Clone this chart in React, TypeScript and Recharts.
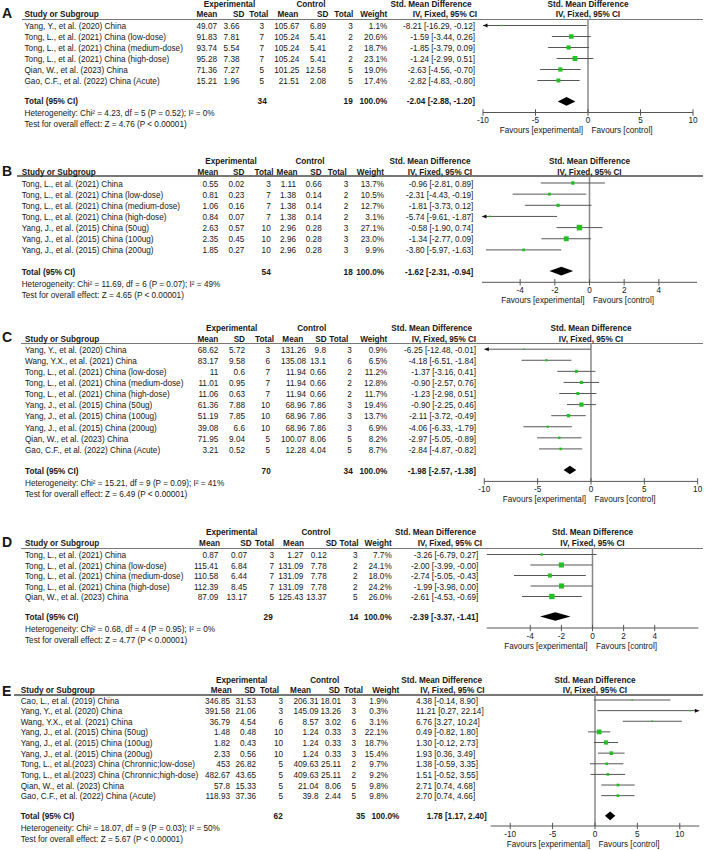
// Five stacked forest plots (panels A–E): RevMan-style table on the left,
// Std. Mean Difference plot on the right. Table text is HTML, marks are Recharts.
import React from "react";
import { ScatterChart, Scatter, ErrorBar, XAxis, YAxis, ReferenceLine, ReferenceArea } from "recharts";

const FONT = '"Liberation Sans", Arial, sans-serif';
const FS = 8.2;
const INK = "#161616";
const GREEN = "#22c022";
const CI_STROKE = "#555";

// ---- Panel A ----
const studiesA = ["Yang, Y., et al. (2020) China", "Tong, L., et al. (2021) China (low-dose)", "Tong, L., et al. (2021) China (medium-dose)", "Tong, L., et al. (2021) China (high-dose)", "Qian, W., et al. (2023) China", "Gao, C.F., et al. (2022) China (Acute)"];
const expMeanA = [49.07, 91.83, 93.74, 95.28, 71.36, 15.21];
const expSdA = [3.66, 7.81, 5.54, 7.38, 7.27, 1.96];
const expNA = [3, 7, 7, 7, 5, 5];
const ctlMeanA = [105.67, 105.24, 105.24, 105.24, 101.25, 21.51];
const ctlSdA = [6.89, 5.41, 5.41, 5.41, 12.58, 2.08];
const ctlNA = [3, 2, 2, 2, 5, 5];
const weightA = [1.1, 20.6, 18.7, 23.1, 19.0, 17.4];
const smdA = [-8.21, -1.59, -1.85, -1.24, -2.63, -2.82];
const loA = [-16.29, -3.44, -3.79, -2.99, -4.56, -4.83];
const hiA = [-0.12, 0.26, 0.09, 0.51, -0.7, -0.8];
const pooledA = [-2.04, -2.88, -1.2];
const totalsA = [34, 19];
const statsA = [4.23, 5, 0.52, 0, 4.76]; // chi2, df, P, I2, Z

// ---- Panel B ----
const studiesB = ["Tong, L., et al. (2021) China", "Tong, L., et al. (2021) China (low-dose)", "Tong, L., et al. (2021) China (medium-dose)", "Tong, L., et al. (2021) China (high-dose)", "Yang, J., et al. (2015) China (50ug)", "Yang, J., et al. (2015) China (100ug)", "Yang, J., et al. (2015) China (200ug)"];
const expMeanB = [0.55, 0.81, 1.06, 0.84, 2.63, 2.35, 1.85];
const expSdB = [0.02, 0.23, 0.16, 0.07, 0.57, 0.45, 0.27];
const expNB = [3, 7, 7, 7, 10, 10, 10];
const ctlMeanB = [1.11, 1.38, 1.38, 1.38, 2.96, 2.96, 2.96];
const ctlSdB = [0.66, 0.14, 0.14, 0.14, 0.28, 0.28, 0.28];
const ctlNB = [3, 2, 2, 2, 3, 3, 3];
const weightB = [13.7, 10.5, 12.7, 3.1, 27.1, 23.0, 9.9];
const smdB = [-0.96, -2.31, -1.81, -5.74, -0.58, -1.34, -3.8];
const loB = [-2.81, -4.43, -3.73, -9.61, -1.9, -2.77, -5.97];
const hiB = [0.89, -0.19, 0.12, -1.87, 0.74, 0.09, -1.63];
const pooledB = [-1.62, -2.31, -0.94];
const totalsB = [54, 18];
const statsB = [11.69, 6, 0.07, 49, 4.65];

// ---- Panel C ----
const studiesC = ["Yang, Y., et al. (2020) China", "Wang, Y.X., et al. (2021) China", "Tong, L., et al. (2021) China (low-dose)", "Tong, L., et al. (2021) China (medium-dose)", "Tong, L., et al. (2021) China (high-dose)", "Yang, J., et al. (2015) China (50ug)", "Yang, J., et al. (2015) China (100ug)", "Yang, J., et al. (2015) China (200ug)", "Qian, W., et al. (2023) China", "Gao, C.F., et al. (2022) China (Acute)"];
const expMeanC = [68.62, 83.17, 11, 11.01, 11.06, 61.36, 51.19, 39.08, 71.95, 3.21];
const expSdC = [5.72, 9.58, 0.6, 0.95, 0.63, 7.88, 7.85, 6.6, 9.04, 0.52];
const expNC = [3, 6, 7, 7, 7, 10, 10, 10, 5, 5];
const ctlMeanC = [131.26, 135.08, 11.94, 11.94, 11.94, 68.96, 68.96, 68.96, 100.07, 12.28];
const ctlSdC = [9.8, 13.1, 0.66, 0.66, 0.66, 7.86, 7.86, 7.86, 8.06, 4.04];
const ctlNC = [3, 6, 2, 2, 2, 3, 3, 3, 5, 5];
const weightC = [0.9, 6.5, 11.2, 12.8, 11.7, 19.4, 13.7, 6.9, 8.2, 8.7];
const smdC = [-6.25, -4.18, -1.37, -0.9, -1.23, -0.9, -2.11, -4.06, -2.97, -2.84];
const loC = [-12.48, -6.51, -3.16, -2.57, -2.98, -2.25, -3.72, -6.33, -5.05, -4.87];
const hiC = [-0.01, -1.84, 0.41, 0.76, 0.51, 0.46, -0.49, -1.79, -0.89, -0.82];
const pooledC = [-1.98, -2.57, -1.38];
const totalsC = [70, 34];
const statsC = [15.21, 9, 0.09, 41, 6.49];

// ---- Panel D ----
const studiesD = ["Tong, L., et al. (2021) China", "Tong, L., et al. (2021) China (low-dose)", "Tong, L., et al. (2021) China (medium-dose)", "Tong, L., et al. (2021) China (high-dose)", "Qian, W., et al. (2023) China"];
const expMeanD = [0.87, 115.41, 110.58, 112.39, 87.09];
const expSdD = [0.07, 6.84, 6.44, 8.45, 13.17];
const expND = [3, 7, 7, 7, 5];
const ctlMeanD = [1.27, 131.09, 131.09, 131.09, 125.43];
const ctlSdD = [0.12, 7.78, 7.78, 7.78, 13.37];
const ctlND = [3, 2, 2, 2, 5];
const weightD = [7.7, 24.1, 18.0, 24.2, 26.0];
const smdD = [-3.26, -2.0, -2.74, -1.99, -2.61];
const loD = [-6.79, -3.99, -5.05, -3.98, -4.53];
const hiD = [0.27, -0.004, -0.43, 0.0, -0.69];
const pooledD = [-2.39, -3.37, -1.41];
const totalsD = [29, 14];
const statsD = [0.68, 4, 0.95, 0, 4.77];

// ---- Panel E ----
const studiesE = ["Cao, L., et al. (2019) China", "Yang, Y., et al. (2020) China", "Wang, Y.X., et al. (2021) China", "Yang, J., et al. (2015) China (50ug)", "Yang, J., et al. (2015) China (100ug)", "Yang, J., et al. (2015) China (200ug)", "Tong, L., et al.(2023) China (Chronnic;low-dose)", "Tong, L., et al.(2023) China (Chronnic;high-dose)", "Qian, W., et al. (2023) China", "Gao, C.F., et al. (2022) China (Acute)"];
const expMeanE = [346.85, 391.58, 36.79, 1.48, 1.82, 2.33, 453, 482.67, 57.8, 118.93];
const expSdE = [31.53, 21.06, 4.54, 0.48, 0.43, 0.56, 26.82, 43.65, 15.33, 37.36];
const expNE = [3, 3, 6, 10, 10, 10, 5, 5, 5, 5];
const ctlMeanE = [206.31, 145.09, 8.57, 1.24, 1.24, 1.24, 409.63, 409.63, 21.04, 39.8];
const ctlSdE = [18.01, 13.26, 3.02, 0.33, 0.33, 0.33, 25.11, 25.11, 8.06, 2.44];
const ctlNE = [3, 3, 6, 3, 3, 3, 2, 2, 5, 5];
const weightE = [1.9, 0.3, 3.1, 22.1, 18.7, 15.4, 9.7, 9.2, 9.8, 9.8];
const smdE = [4.38, 11.21, 6.76, 0.49, 1.3, 1.93, 1.38, 1.51, 2.71, 2.7];
const loE = [-0.14, 0.27, 3.27, -0.82, -0.12, 0.36, -0.59, -0.52, 0.74, 0.74];
const hiE = [8.9, 22.14, 10.24, 1.8, 2.73, 3.49, 3.35, 3.55, 4.68, 4.66];
const pooledE = [1.78, 1.17, 2.4];
const totalsE = [62, 35];
const statsE = [18.07, 9, 0.03, 50, 5.67];

const ticks10 = [-10, -5, 0, 5, 10];
const ticks4 = [-4, -2, 0, 2, 4];

type Layout = {
  letterY: number; lineY: number; lineX0: number; hdr1Y: number; hdr2Y: number;
  y0: number; rowH: number; axisY: number; textX: number;
  dom: number; plotL: number; plotR: number; ticks: number[];
  col: number[]; hcol: number[]; expC: number; ctlC: number; smdC: number; ivC: number;
  tot: number[]; ciLeft?: boolean;
};

const layA: Layout = { letterY: 13, lineY: 19.5, lineX0: 21.7, hdr1Y: 5, hdr2Y: 15, y0: 25, rowH: 11, axisY: 112, textX: 24.5,
  dom: 10, plotL: 483, plotR: 693, ticks: ticks10,
  col: [217, 239.5, 264, 299.3, 326, 352.7, 387.3, 475], hcol: [217.3, 244.3, 268.3, 298.3, 328.3, 353.3, 387.3],
  expC: 229.5, ctlC: 311, smdC: 431, ivC: 445, tot: [266.7, 352.7, 387.3, 475] };
const layB: Layout = { letterY: 170.5, lineY: 176, lineX0: 17, hdr1Y: 162, hdr2Y: 172.5, y0: 183, rowH: 11.15, axisY: 282.3, textX: 21.7,
  dom: 6.2, plotL: 482, plotR: 697, ticks: ticks4,
  col: [218.3, 244.3, 270.7, 296, 321.7, 348.3, 384, 473.3], hcol: [218.3, 244.3, 273.5, 297.5, 321.7, 346.7, 384],
  expC: 231, ctlC: 310, smdC: 430, ivC: 440, tot: [270.7, 352.7, 384, 473.3] };
const layC: Layout = { letterY: 336.7, lineY: 343.3, lineX0: 21, hdr1Y: 329, hdr2Y: 339.5, y0: 349.5, rowH: 11.08, axisY: 481.7, textX: 25,
  dom: 10, plotL: 484.3, plotR: 697.7, ticks: ticks10,
  col: [218.3, 245, 270, 306, 326, 351.7, 387.3, 476], hcol: [218.3, 245, 274, 303.3, 326.7, 348.3, 387.3],
  expC: 231.7, ctlC: 311.7, smdC: 431.7, ivC: 444, tot: [270.7, 352.7, 387.3, 476] };
const layD: Layout = { letterY: 541.7, lineY: 548.3, lineX0: 21, hdr1Y: 533.3, hdr2Y: 544, y0: 554.8, rowH: 10.5, axisY: 628.3, textX: 25,
  dom: 6.8, plotL: 486.7, plotR: 698.3, ticks: ticks4,
  col: [218.3, 247, 274, 303.3, 326.7, 357.5, 391.7, 478.3], hcol: [220, 251.7, 274, 304, 337, 358.5, 391.7],
  expC: 231.7, ctlC: 316, smdC: 435.5, ivC: 450, tot: [272.7, 358.3, 391.7, 478.3] };
const layE: Layout = { letterY: 690.5, lineY: 695, lineX0: 14, hdr1Y: 681, hdr2Y: 691, y0: 700, rowH: 10.63, axisY: 826, textX: 20.7,
  dom: 12.3, plotL: 490.7, plotR: 699.3, ticks: ticks10,
  col: [230, 256, 283, 318.5, 341, 356, 388, 416], hcol: [231.7, 255.5, 279, 311, 340, 363, 399.3],
  expC: 241.7, ctlC: 324.7, smdC: 441.7, ivC: 452.5, tot: [282.7, 365, 399.3, 426.7], ciLeft: true };

type Panel = {
  letter: string; studies: string[]; eM: number[]; eSd: number[]; eN: number[]; cM: number[]; cSd: number[]; cN: number[];
  w: number[]; smd: number[]; lo: number[]; hi: number[]; pooled: number[]; totals: number[]; stats: number[]; lay: Layout;
};

const PANELS: Panel[] = [
  { letter: "A", studies: studiesA, eM: expMeanA, eSd: expSdA, eN: expNA, cM: ctlMeanA, cSd: ctlSdA, cN: ctlNA, w: weightA, smd: smdA, lo: loA, hi: hiA, pooled: pooledA, totals: totalsA, stats: statsA, lay: layA },
  { letter: "B", studies: studiesB, eM: expMeanB, eSd: expSdB, eN: expNB, cM: ctlMeanB, cSd: ctlSdB, cN: ctlNB, w: weightB, smd: smdB, lo: loB, hi: hiB, pooled: pooledB, totals: totalsB, stats: statsB, lay: layB },
  { letter: "C", studies: studiesC, eM: expMeanC, eSd: expSdC, eN: expNC, cM: ctlMeanC, cSd: ctlSdC, cN: ctlNC, w: weightC, smd: smdC, lo: loC, hi: hiC, pooled: pooledC, totals: totalsC, stats: statsC, lay: layC },
  { letter: "D", studies: studiesD, eM: expMeanD, eSd: expSdD, eN: expND, cM: ctlMeanD, cSd: ctlSdD, cN: ctlND, w: weightD, smd: smdD, lo: loD, hi: hiD, pooled: pooledD, totals: totalsD, stats: statsD, lay: layD },
  { letter: "E", studies: studiesE, eM: expMeanE, eSd: expSdE, eN: expNE, cM: ctlMeanE, cSd: ctlSdE, cN: ctlNE, w: weightE, smd: smdE, lo: loE, hi: hiE, pooled: pooledE, totals: totalsE, stats: statsE, lay: layE },
];

const f2 = (v: number) => v.toFixed(2);
const ciText = (s: number, l: number, h: number) => `${f2(s)} [${f2(l)}, ${f2(h)}]`;

function Txt({ x, y, children, align = "l", bold = false, size = FS }: {
  x: number; y: number; children: React.ReactNode; align?: "l" | "r" | "c"; bold?: boolean; size?: number;
}) {
  const lh = 12;
  const style: React.CSSProperties = {
    position: "absolute", top: y - lh / 2, lineHeight: `${lh}px`, fontSize: size,
    fontWeight: bold ? 700 : 400, whiteSpace: "nowrap", color: INK, fontFamily: FONT,
  };
  if (align === "l") style.left = x;
  else if (align === "r") { style.left = x - 300; style.width = 300; style.textAlign = "right"; }
  else { style.left = x - 150; style.width = 300; style.textAlign = "center"; }
  return <div style={style}>{children}</div>;
}

const renderTick = (p: any) => (
  <g>
    <line x1={p.x} x2={p.x} y1={p.y - 3.2} y2={p.y + 3.2} stroke="#555" strokeWidth={1} />
    <text x={p.x} y={p.y + 10.9} textAnchor="middle" fontSize={FS} fontFamily={FONT} fill={INK}>{p.payload.value}</text>
  </g>
);

const renderSquare = (p: any) => {
  const s = Math.max(1.4, 1.1 + p.payload.w * 0.165);
  return <rect x={p.cx - s / 2} y={p.cy - s / 2} width={s} height={s} fill={GREEN} />;
};

const renderArrow = (p: any) => {
  const d = p.payload.dir;
  const pts = `${p.cx},${p.cy} ${p.cx - d * 4.5},${p.cy - 2} ${p.cx - d * 4.5},${p.cy + 2}`;
  return <polygon points={pts} fill="#111" />;
};

const renderDiamond = (p: any) => {
  const cy = p.y + p.height / 2;
  const x0 = p.x, x1 = p.x + p.width, xm = p.x + p.width / 2;
  return <polygon points={`${x0},${cy} ${xm},${cy - 4.3} ${x1},${cy} ${xm},${cy + 4.3}`} fill="#000" />;
};

function ForestPanel({ p }: { p: Panel }) {
  const L = p.lay;
  const n = p.studies.length;
  const td = 1.5;
  const rowY = (i: number) => L.y0 + i * L.rowH;
  const totIdx = n + 0.9;
  const totY = rowY(totIdx);
  const dom = L.dom;
  const zeroX = (L.plotL + L.plotR) / 2;

  const pts = p.smd.map((s, i) => {
    const lo = Math.max(p.lo[i], -dom);
    const hi = Math.min(p.hi[i], dom);
    return { x: s, y: i, w: p.w[i], err: [s - lo, hi - s] };
  });
  // CIs running past the axis end get an arrowhead at the edge
  const arrows: { x: number; y: number; dir: number }[] = [];
  p.lo.forEach((v, i) => { if (v < -dom) arrows.push({ x: -dom, y: i, dir: -1 }); });
  p.hi.forEach((v, i) => { if (v > dom) arrows.push({ x: dom, y: i, dir: 1 }); });

  const chartH = L.axisY - L.lineY + 14;
  const [chi, df, pv, i2, z] = p.stats;
  const c = L.col;
  const h = L.hcol;

  return (
    <>
      <Txt x={2} y={L.letterY} bold size={14}>{p.letter}</Txt>
      <div style={{ position: "absolute", left: L.lineX0, top: L.lineY - 0.75, width: 703 - L.lineX0, height: 1.5, background: "#777" }} />

      <Txt x={L.expC} y={L.hdr1Y} align="c" bold>Experimental</Txt>
      <Txt x={L.ctlC} y={L.hdr1Y} align="c" bold>Control</Txt>
      <Txt x={L.smdC} y={L.hdr1Y} align="c" bold>Std. Mean Difference</Txt>
      <Txt x={zeroX} y={L.hdr1Y} align="c" bold>Std. Mean Difference</Txt>
      <Txt x={L.textX} y={L.hdr2Y} bold>Study or Subgroup</Txt>
      <Txt x={h[0]} y={L.hdr2Y} align="r" bold>Mean</Txt>
      <Txt x={h[1]} y={L.hdr2Y} align="r" bold>SD</Txt>
      <Txt x={h[2]} y={L.hdr2Y} align="r" bold>Total</Txt>
      <Txt x={h[3]} y={L.hdr2Y} align="r" bold>Mean</Txt>
      <Txt x={h[4]} y={L.hdr2Y} align="r" bold>SD</Txt>
      <Txt x={h[5]} y={L.hdr2Y} align="r" bold>Total</Txt>
      <Txt x={h[6]} y={L.hdr2Y} align="r" bold>Weight</Txt>
      <Txt x={L.ivC} y={L.hdr2Y} align="c" bold>IV, Fixed, 95% CI</Txt>
      <Txt x={zeroX} y={L.hdr2Y} align="c" bold>IV, Fixed, 95% CI</Txt>

      {p.studies.map((s, i) => {
        const y = rowY(i) + td;
        return (
          <React.Fragment key={i}>
            <Txt x={L.textX} y={y}>{s}</Txt>
            <Txt x={c[0]} y={y} align="r">{String(p.eM[i])}</Txt>
            <Txt x={c[1]} y={y} align="r">{String(p.eSd[i])}</Txt>
            <Txt x={c[2]} y={y} align="r">{String(p.eN[i])}</Txt>
            <Txt x={c[3]} y={y} align="r">{String(p.cM[i])}</Txt>
            <Txt x={c[4]} y={y} align="r">{String(p.cSd[i])}</Txt>
            <Txt x={c[5]} y={y} align="r">{String(p.cN[i])}</Txt>
            <Txt x={c[6]} y={y} align="r">{p.w[i].toFixed(1)}%</Txt>
            <Txt x={c[7]} y={y} align={L.ciLeft ? "l" : "r"}>{ciText(p.smd[i], p.lo[i], p.hi[i])}</Txt>
          </React.Fragment>
        );
      })}

      <Txt x={L.textX} y={totY + td} bold>Total (95% CI)</Txt>
      <Txt x={L.tot[0]} y={totY + td} align="r" bold>{p.totals[0]}</Txt>
      <Txt x={L.tot[1]} y={totY + td} align="r" bold>{p.totals[1]}</Txt>
      <Txt x={L.tot[2]} y={totY + td} align="r" bold>100.0%</Txt>
      <Txt x={L.tot[3]} y={totY + td} align={L.ciLeft ? "l" : "r"} bold>{ciText(p.pooled[0], p.pooled[1], p.pooled[2])}</Txt>
      <Txt x={L.textX} y={totY + 13.5}>{`Heterogeneity: Chi² = ${chi.toFixed(2)}, df = ${df} (P = ${pv.toFixed(2)}); I² = ${i2}%`}</Txt>
      <Txt x={L.textX} y={totY + 24.5}>{`Test for overall effect: Z = ${z.toFixed(2)} (P < 0.00001)`}</Txt>

      <Txt x={zeroX - 5} y={L.axisY + 18.7} align="r">Favours [experimental]</Txt>
      <Txt x={zeroX + 3.5} y={L.axisY + 18.7}>Favours [control]</Txt>

      <div style={{ position: "absolute", left: 0, top: L.lineY, width: 708, height: chartH }}>
        <ScatterChart width={708} height={chartH} margin={{ top: 0, right: 708 - L.plotR, bottom: 0, left: L.plotL }}>
          <XAxis type="number" dataKey="x" domain={[-dom, dom]} ticks={L.ticks} interval={0} allowDataOverflow
            height={14} tickSize={0} tickMargin={0} tickLine={false} axisLine={{ stroke: "#555" }} tick={renderTick} />
          <YAxis type="number" dataKey="y" domain={[(L.lineY - L.y0) / L.rowH, (L.axisY - L.y0) / L.rowH]}
            reversed hide allowDataOverflow />
          <ReferenceLine x={0} stroke="#888" strokeWidth={1.5} />
          <Scatter data={pts} isAnimationActive={false} shape={renderSquare}>
            <ErrorBar dataKey="err" direction="x" width={0} stroke={CI_STROKE} strokeWidth={1} isAnimationActive={false} />
          </Scatter>
          <Scatter data={arrows} isAnimationActive={false} shape={renderArrow} />
          <ReferenceArea x1={p.pooled[1]} x2={p.pooled[2]} y1={totIdx - 0.3} y2={totIdx + 0.3}
            ifOverflow="visible" shape={renderDiamond} />
        </ScatterChart>
      </div>
    </>
  );
}

export default function App() {
  return (
    <div style={{ position: "absolute", left: 0, top: 0, width: 708, height: 850, background: "#fff", fontFamily: FONT, overflow: "hidden" }}>
      {PANELS.map((p) => <ForestPanel key={p.letter} p={p} />)}
    </div>
  );
}
